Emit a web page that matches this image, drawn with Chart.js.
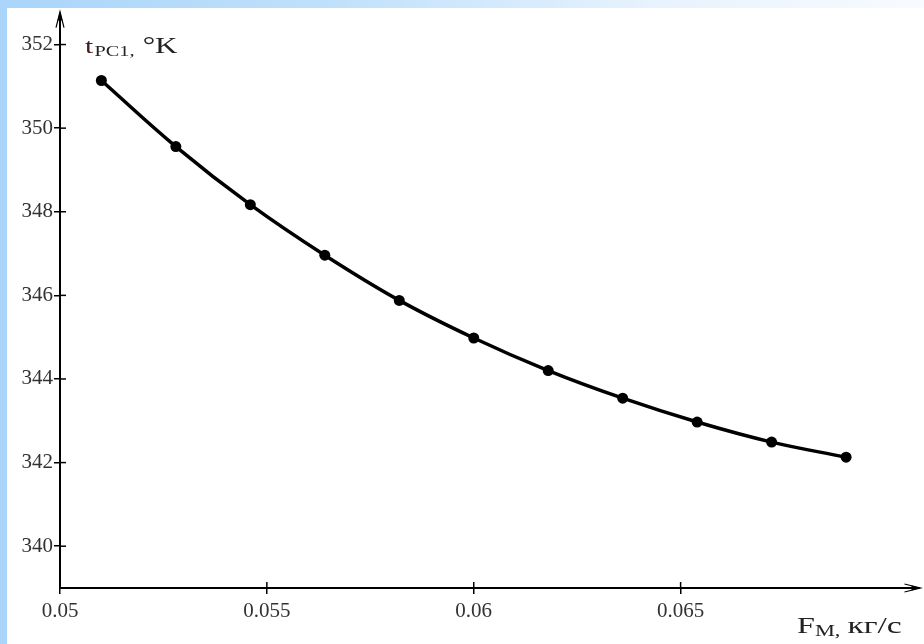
<!DOCTYPE html>
<html>
<head>
<meta charset="utf-8">
<script src="https://cdn.jsdelivr.net/npm/chart.js@4.4.1/dist/chart.umd.min.js"></script>
<style>
  html, body { margin: 0; padding: 0; width: 924px; height: 644px; overflow: hidden; background: #fff; }
  #edgeLeft { position: absolute; left: 0; top: 0; width: 7px; height: 644px; background: #a9d5fa; }
  #edgeTop { position: absolute; left: 0; top: 0; width: 924px; height: 8px;
    background: linear-gradient(to right, #a9d5fa 0%, #bfe0fb 35%, #e6f2fd 70%, #f8fbff 100%); }
  #wrap { position: absolute; left: 0; top: 0; width: 924px; height: 644px; }
</style>
</head>
<body>
<div id="edgeLeft"></div>
<div id="edgeTop"></div>
<div id="wrap"><canvas id="chart" width="924" height="644"></canvas></div>
<script>
// Mass flow rate F_M, kg/s
const flowRates = [0.051, 0.0528, 0.0546, 0.0564, 0.0582, 0.06, 0.0618, 0.0636, 0.0654, 0.0672, 0.069];
// Temperature t_PC1, K
const temperatures = [351.14, 349.56, 348.17, 346.96, 345.88, 344.98, 344.20, 343.54, 342.97, 342.49, 342.13];

const xTicks = [0.05, 0.055, 0.06, 0.065];
const xTickLabels = ['0.05', '0.055', '0.06', '0.065'];
const yTicks = [340, 342, 344, 346, 348, 350, 352];
const yTickLabels = ['340', '342', '344', '346', '348', '350', '352'];

const SERIF = '"Liberation Serif", "Times New Roman", serif';
const TICK_LEN = 6;

// Draws a caption made of [text, fontSize, baselineShift, color, gapAfter] runs, stretched horizontally
function drawCaption(ctx, x, y, runs, stretch) {
  ctx.save();
  ctx.translate(x, y);
  ctx.scale(stretch, 1);
  let cx = 0;
  runs.forEach(([text, size, dy, color, gapAfter]) => {
    ctx.font = size + 'px ' + SERIF;
    ctx.fillStyle = color;
    ctx.fillText(text, cx, dy);
    cx += ctx.measureText(text).width + (gapAfter || 0);
  });
  ctx.restore();
}

// Axis arrows, inner halves of the tick marks and the axis captions
const axisDecor = {
  id: 'axisDecor',
  afterDraw(chart) {
    const ctx = chart.ctx;
    const xs = chart.scales.x, ys = chart.scales.y;
    const x0 = xs.getPixelForValue(xs.min);
    const y0 = ys.getPixelForValue(ys.min);
    const yTop = ys.getPixelForValue(ys.max);
    const xEnd = xs.getPixelForValue(xs.max);
    ctx.save();
    ctx.strokeStyle = '#000';
    ctx.fillStyle = '#000';
    ctx.lineWidth = 1.5;
    // tick marks crossing the axes
    yTicks.forEach(v => {
      const py = ys.getPixelForValue(v);
      ctx.beginPath(); ctx.moveTo(x0, py); ctx.lineTo(x0 + TICK_LEN, py); ctx.stroke();
    });
    xTicks.forEach(v => {
      const px = xs.getPixelForValue(v);
      ctx.beginPath(); ctx.moveTo(px, y0); ctx.lineTo(px, y0 - TICK_LEN); ctx.stroke();
    });
    // arrow heads
    ctx.lineWidth = 1.2;
    ctx.beginPath();
    ctx.moveTo(x0 - 4, yTop + 14); ctx.lineTo(x0, yTop - 2); ctx.lineTo(x0 + 4, yTop + 14);
    ctx.stroke();
    ctx.beginPath();
    ctx.moveTo(x0, yTop - 2); ctx.lineTo(x0 - 2.5, yTop + 7); ctx.lineTo(x0 + 2.5, yTop + 7); ctx.closePath();
    ctx.fill();
    ctx.beginPath();
    ctx.moveTo(xEnd - 14, y0 - 4); ctx.lineTo(xEnd + 2, y0); ctx.lineTo(xEnd - 14, y0 + 4);
    ctx.stroke();
    ctx.beginPath();
    ctx.moveTo(xEnd + 2, y0); ctx.lineTo(xEnd - 7, y0 - 2.5); ctx.lineTo(xEnd - 7, y0 + 2.5); ctx.closePath();
    ctx.fill();
    ctx.restore();

    // captions
    ctx.save();
    ctx.textBaseline = 'alphabetic';
    ctx.textAlign = 'left';
    drawCaption(ctx, 85, 53, [
      ['t', 22, 0, '#4a1c1c', 1],
      ['PC1,', 15, 3, '#222', 6],
      ['°K', 23, 0, '#222', 0]
    ], 1.35);
    drawCaption(ctx, 797, 633, [
      ['F', 23, 0, '#222', 0],
      ['M,', 16, 3, '#222', 5],
      ['кг/с', 24, 0, '#222', 0]
    ], 1.4);
    ctx.restore();
  }
};

new Chart(document.getElementById('chart'), {
  type: 'line',
  data: {
    datasets: [{
      data: flowRates.map((x, i) => ({ x, y: temperatures[i] })),
      borderColor: '#000',
      borderWidth: 3.5,
      tension: 0.4,
      pointRadius: 5.5,
      pointBackgroundColor: '#000',
      pointBorderWidth: 0,
      clip: false
    }]
  },
  options: {
    responsive: false,
    animation: false,
    devicePixelRatio: 1,
    layout: { padding: { left: 7, top: 12, right: 5, bottom: 0 } },
    plugins: { legend: { display: false }, tooltip: { enabled: false } },
    scales: {
      x: {
        type: 'linear',
        position: 'bottom',
        min: 0.05,
        max: 0.07075,
        afterFit(s) { s.height = 56; },
        afterBuildTicks(s) { s.ticks = xTicks.map(v => ({ value: v })); },
        ticks: {
          callback: v => xTickLabels[xTicks.indexOf(v)],
          font: { family: SERIF, size: 21 },
          color: '#333',
          padding: 5,
          maxRotation: 0,
          autoSkip: false
        },
        grid: { display: true, drawOnChartArea: false, drawTicks: true, tickLength: TICK_LEN, color: '#000', lineWidth: 1.5 },
        border: { display: true, color: '#000', width: 2 }
      },
      y: {
        position: 'left',
        min: 339,
        max: 352.74,
        afterFit(s) { s.width = 53; },
        afterBuildTicks(s) { s.ticks = yTicks.map(v => ({ value: v })); },
        ticks: {
          callback: v => yTickLabels[yTicks.indexOf(v)],
          font: { family: SERIF, size: 21 },
          color: '#333',
          padding: 1,
          autoSkip: false
        },
        grid: { display: true, drawOnChartArea: false, drawTicks: true, tickLength: TICK_LEN, color: '#000', lineWidth: 1.5 },
        border: { display: true, color: '#000', width: 2 }
      }
    }
  },
  plugins: [axisDecor]
});
</script>
</body>
</html>
